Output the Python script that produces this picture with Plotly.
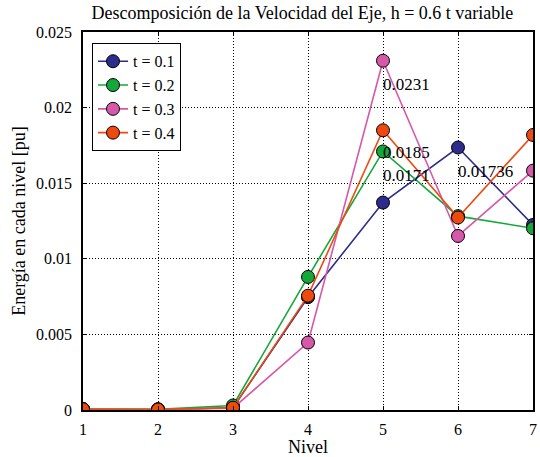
import plotly.graph_objects as go

niveles = [1, 2, 3, 4, 5, 6, 7]
t_labels = ["t = 0.1", "t = 0.2", "t = 0.3", "t = 0.4"]
e_t01 = [0.00005, 0.00003, 0.00015, 0.00746, 0.01372, 0.01736, 0.01224]
e_t02 = [0.00005, 0.00005, 0.00030, 0.00880, 0.0171, 0.01282, 0.01202]
e_t03 = [0.00005, 0.00003, 0.00012, 0.00446, 0.0231, 0.01151, 0.01583]
e_t04 = [0.00005, 0.00003, 0.00015, 0.00756, 0.0185, 0.01273, 0.01819]
series = [e_t01, e_t02, e_t03, e_t04]
colores = ["#2d2b8c", "#14a83a", "#d659a9", "#ee4a10"]

# value labels: (x, y of text anchor, text)
etiquetas = [
    (5, 0.02156, "0.0231"),
    (5, 0.01706, "0.0185"),
    (5, 0.01554, "0.0171"),
    (6, 0.01580, "0.01736"),
]

SERIF = "Liberation Serif"

fig = go.Figure()
for nombre, vals, col in zip(t_labels, series, colores):
    fig.add_trace(go.Scatter(
        x=niveles, y=vals, name=nombre, mode="lines+markers",
        line=dict(color=col, width=1.6),
        marker=dict(size=13, color=col, line=dict(color="black", width=1)),
    ))

for xv, yv, txt in etiquetas:
    fig.add_annotation(x=xv, y=yv, text=txt, showarrow=False,
                       xanchor="left", yanchor="middle", xshift=-2,
                       font=dict(family=SERIF, size=17, color="black"))

eje = dict(showline=True, linecolor="black", linewidth=1.5, mirror="ticks",
           ticks="inside", ticklen=4, tickcolor="black",
           showgrid=True, gridcolor="black", gridwidth=1, griddash="1px,2px",
           zeroline=False, automargin=False,
           tickfont=dict(family=SERIF, size=16, color="black"))

fig.update_layout(
    width=540, height=457,
    margin=dict(l=83, r=7, t=32, b=47),
    paper_bgcolor="white", plot_bgcolor="white",
    title=dict(text="Descomposición de la Velocidad del Eje, h = 0.6 t variable",
               x=0.56, xanchor="center", y=0.985, yanchor="top",
               font=dict(family=SERIF, size=18, color="black")),
    xaxis=dict(eje, range=[1, 7], dtick=1, ticklabelstandoff=4,
               title=dict(text="Nivel", standoff=13,
                          font=dict(family=SERIF, size=18, color="black"))),
    yaxis=dict(eje, range=[0, 0.025], dtick=0.005, ticklabelstandoff=6,
               title=dict(text="Energía en cada nivel [pu]", standoff=6,
                          font=dict(family=SERIF, size=18, color="black"))),
    legend=dict(x=0.02, y=0.97, xanchor="left", yanchor="top",
                bgcolor="white", bordercolor="black", borderwidth=1,
                font=dict(family=SERIF, size=16, color="black"),
                tracegroupgap=0, itemwidth=30),
    showlegend=True,
)

fig.write_html("out.html")
